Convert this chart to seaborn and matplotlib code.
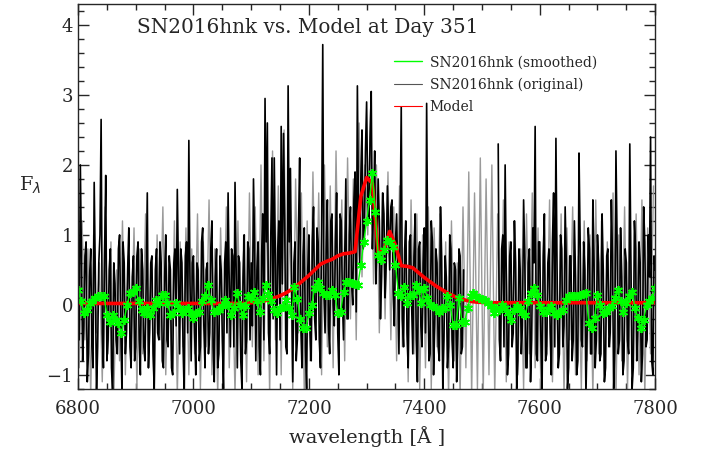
import numpy as np
import pandas as pd
import seaborn as sns
import matplotlib.pyplot as plt
from matplotlib.lines import Line2D
from matplotlib.ticker import MultipleLocator

nan = np.nan

# original spectrum (black), 4 A steps from 6800 to 7800
orig_wave = np.arange(6800, 7801, 4)
orig_flux = [
    0.5, 2.0, -0.8, 0.7, -1.1, 0.4, -0.6, 1.75, -1.3, 0.6, 2.65, -0.9, 1.85, -0.5, 0.8, -1.3, 0.3, -0.7, 1.0, -1.2, 0.6, -0.4, 1.1, -0.9, 0.7,
    -0.6, 0.9, -1.0, 0.5, -0.8, 1.6, -0.4, 0.7, -1.2, 0.8, -0.5, 0.6, -0.9, 1.0, -0.6, 0.5, -1.0, 0.8, 1.65, -0.7, 0.6, -1.3, 0.9, 2.35, -0.8,
    0.7, -1.0, 0.5, -0.6, 1.1, -0.9, 0.6, -0.4, 1.2, -1.1, 0.8, -0.7, 0.5, -1.2, 0.9, 1.6, -0.6, 0.7, 1.75, -0.9, 0.6, -1.2, 1.0, -0.5, 0.8,
    0.6, 1.8, -0.8, 0.9, -1.0, 1.3, 2.95, 2.6, -0.7, 2.1, 2.1, -1.0, 1.2, 2.55, 2.45, -0.6, 3.13, 1.95, -1.1, 0.9, -0.5, 2.1, -0.9, 1.1, -1.2,
    1.0, -0.8, 1.4, -0.5, 0.9, -0.9, 3.72, -0.4, 1.5, -0.7, 1.3, -0.3, 1.6, -1.0, 1.2, -0.5, 1.8, -0.2, 1.4, 0.0, 1.9, 3.13, 0.6, 2.5, 0.9,
    2.9, 1.2, 3.05, 1.4, 0.3, 1.8, -0.2, 1.6, 0.1, 1.7, 0.5, 1.5, -0.3, 1.3, -0.7, 2.83, -0.6, 1.2, -0.9, 1.0, -0.7, 1.3, -1.1, 0.9, -0.6,
    1.1, 2.88, -0.8, 1.2, -1.0, 0.8, -0.6, 1.4, -1.2, 0.7, -0.9, 1.0, -0.5, 0.6, -1.1, 0.8, -0.7, 0.5, nan, nan, nan, nan, nan, nan, nan,
    nan, nan, nan, nan, nan, nan, nan, 2.3, -0.8, 1.0, 2.0, -1.0, 0.7, -0.6, 1.2, -1.2, 0.8, -0.7, 1.5, -0.9, 0.6, -1.1, 1.1, 2.55, -0.8,
    0.9, -1.2, 1.3, -0.7, 0.8, -1.0, 1.6, 2.38, -0.9, 1.0, -0.6, 1.4, -1.2, 0.7, -0.8, 1.2, -1.0, 2.17, -0.5, 0.9, -1.3, 1.1, -0.7, 1.5, -0.9,
    1.0, -0.8, 1.3, -1.1, 0.7, -0.6, 1.5, -1.2, 2.2, -0.7, 1.1, -1.0, 0.8, -0.5, 2.3, -1.2, 1.2, -0.8, 0.9, -1.1, 1.4, -0.6, 1.0, 2.4, -1.0,
    0.5,
]

# original spectrum, the pixels in between (6802 to 7798)
orig_wave_mid = np.arange(6802, 7800, 4)
orig_flux_mid = [
    -0.5, 0.6, -0.3, 0.9, -0.7, 0.8, -0.9, 0.4, -0.6, 1.0, -0.4, 0.7, -0.8, 0.5, -0.9, 0.6, -0.5, 0.8, -0.3, 0.9, -0.7, 0.5, -0.6, 0.4, -0.8,
    0.7, -0.5, 0.8, -0.6, 0.3, -0.9, 0.6, -0.7, 0.5, -0.4, 0.9, -0.8, 0.4, -0.5, 0.7, -0.9, 0.6, -0.3, 0.5, 0.8, -0.6, 0.7, -0.4, 0.3, 0.6,
    -0.4, 0.6, -0.8, 0.9, -0.3, 0.5, -0.7, 0.8, -0.6, 0.4, -0.9, 0.7, -0.5, 0.6, -0.4, 0.3, 0.8, -0.6, 0.5, 0.7, -0.8, 0.4, -0.7, 0.9, -0.5,
    -0.3, 0.8, 0.5, -0.6, 0.7, -0.5, 0.9, -0.4, 1.0, -0.2, 0.6, 0.8, -0.5, 0.3, 1.2, -0.7, 0.9, 0.4, 0.6, -0.8, 1.1, -0.3, 0.7, -0.6, 0.5,
    -0.4, 0.9, -0.2, 1.1, -0.5, 1.0, 0.2, 0.8, -0.3, 1.2, 0.0, 0.9, -0.4, 1.3, 0.1, 0.7, -0.2, 1.0, 0.3, 1.5, -0.1, 1.2, 1.8, 0.8, 2.2,
    1.5, 2.4, 0.8, 2.2, 0.9, 1.2, 0.4, 1.3, 0.6, 1.1, 1.4, 0.2, 0.9, 0.4, 1.1, -0.2, 0.8, -0.4, 0.9, 0.0, 0.7, -0.5, 0.8, -0.3, 0.6,
    -0.4, 0.5, -0.7, 0.9, -0.3, 0.6, -0.8, 0.7, -0.5, 0.4, -0.6, 0.8, -0.9, 0.5, -0.4, 0.7, -0.6, nan, nan, nan, nan, nan, nan, nan, nan,
    nan, nan, nan, nan, nan, nan, nan, -0.5, 0.8, -0.6, 0.4, -0.7, 0.9, -0.4, 0.6, -0.8, 0.5, -0.3, 0.7, -0.9, 0.8, -0.5, 0.6, -0.7, 0.9,
    -0.5, 0.7, -0.8, 0.6, -0.4, 0.9, -0.6, 0.5, -0.7, 0.8, -0.3, 0.6, -0.9, 0.7, -0.5, 0.4, -0.8, 0.9, -0.6, 0.5, -0.4, 0.8, -0.7, 0.6, -0.5,
    0.6, -0.7, 0.5, -0.9, 0.8, -0.4, 0.7, -0.6, 0.9, -0.5, 0.4, -0.8, 0.6, -0.7, 0.5, -0.9, 0.8, -0.3, 0.6, -0.7, 0.9, -0.5, 0.4, -0.8, 0.7,
]

# second (lighter) trace of the spectrum, 5 A steps from 6802
grey_wave = np.arange(6802, 7800, 5)
grey_flux = [
    -0.9, 1.2, -0.5, 0.8, -1.3, 1.0, -0.4, 0.6, -1.1, 1.4, -0.7, 0.9, -1.3, 0.5, -0.8, 1.2, -1.0, 0.7, -0.6, 1.1,
    -1.2, 0.8, -0.7, 1.3, -0.9, 0.6, -1.3, 1.0, -0.5, 1.4, -1.0, 0.7, -0.8, 1.2, -1.3, 0.9, -0.6, 1.1, -1.0, 0.8,
    -0.7, 1.3, -1.2, 0.9, -0.6, 1.5, -1.0, 0.8, -1.3, 1.1, -0.5, 1.4, -0.9, 0.7, -1.3, 1.2, -0.8, 1.0, -1.1, 1.6,
    -0.6, 1.4, -1.0, 2.0, -0.8, 1.5, -1.3, 2.2, -0.5, 1.7, -1.0, 2.5, -0.7, 1.3, -1.2, 1.8, -0.4, 1.6, -1.3, 1.2,
    -0.8, 1.9, -0.5, 1.6, -1.0, 2.0, -0.6, 1.7, -0.9, 2.2, -0.3, 1.5, -0.8, 2.1, -0.2, 1.8, -0.5, 2.6, 0.4, 2.0,
    1.0, 2.8, 0.3, 2.0, -0.4, 1.6, -0.2, 1.9, -0.5, 1.4, -0.8, 1.7, -0.6, 1.2, -1.1, 1.5, -0.7, 1.3, -1.2, 1.0,
    -0.9, 1.4, -1.2, 1.1, -0.6, 1.3, -1.0, 0.9, -1.3, 1.2, -0.8, 0.6, -1.3, 1.4, -0.9, 1.9, -1.3, 1.6, -1.2, 2.1,
    -1.3, 1.8, -1.0, 2.0, -1.3, 1.3, -0.8, 1.5, -1.1, 0.9, -0.6, 1.2, -1.0, 0.8, -1.2, 1.3, -0.7, 1.6, -0.9, 1.1,
    -1.2, 1.0, -0.6, 1.5, -1.1, 0.8, -0.9, 1.3, -1.3, 1.1, -0.5, 1.4, -1.0, 0.7, -1.2, 1.2, -0.8, 1.0, -1.3, 1.5,
    -0.7, 1.2, -1.1, 0.9, -0.6, 1.6, -1.3, 1.0, -0.8, 1.4, -1.2, 0.7, -0.9, 1.3, -1.0, 1.5, -1.3, 1.1, -0.7, 1.7,
]

# smoothed spectrum (green), 5 A steps
smooth_wave = np.arange(6800, 7801, 5)
smooth_flux = [
    0.21, 0.05, -0.12, -0.07, 0.02, 0.05, 0.10, 0.12, 0.13, 0.12, -0.14, -0.24, -0.14, -0.22, -0.26, -0.40, -0.21, 0.0, 0.17, 0.18,
    0.24, 0.05, -0.07, -0.12, -0.05, -0.14, -0.05, 0.07, 0.02, 0.14, 0.14, 0.02, -0.14, -0.12, 0.02, -0.05, -0.12, -0.07, -0.05, -0.12,
    -0.19, -0.12, -0.10, 0.05, 0.12, 0.29, 0.07, -0.10, -0.07, -0.07, -0.02, 0.07, 0.0, -0.14, -0.05, 0.17, 0.0, -0.14, -0.02, 0.12,
    0.10, 0.19, 0.05, -0.10, 0.10, 0.29, 0.15, 0.05, -0.08, -0.12, -0.05, -0.03, 0.07, -0.05, -0.14, 0.26, 0.08, -0.20, -0.33, -0.33,
    -0.12, 0.0, 0.24, 0.33, 0.24, 0.17, 0.14, 0.14, 0.21, 0.14, -0.12, -0.10, 0.19, 0.33, 0.32, 0.31, 0.30, 0.29, 0.57, 0.90,
    1.20, 1.50, 1.89, 1.33, 0.71, 0.64, 0.79, 0.93, 0.90, 0.83, 0.57, 0.17, 0.12, 0.26, 0.02, 0.14, 0.14, 0.29, 0.21, 0.02,
    0.24, 0.10, 0.0, -0.02, -0.05, -0.10, -0.05, -0.05, 0.12, 0.0, -0.29, -0.29, 0.10, -0.24, -0.24, -0.05, 0.12, 0.17, 0.12, 0.10,
    0.08, 0.07, 0.03, -0.02, -0.12, -0.05, -0.07, 0.0, -0.05, -0.12, -0.21, -0.07, -0.02, -0.05, -0.12, -0.14, 0.05, 0.17, 0.24, 0.14,
    -0.02, -0.10, -0.10, -0.06, -0.02, -0.12, -0.14, -0.10, -0.07, 0.07, 0.12, 0.12, 0.12, 0.13, 0.14, 0.15, 0.17, -0.26, -0.33, -0.19,
    0.14, 0.0, -0.12, -0.10, -0.05, -0.02, 0.10, 0.21, 0.05, -0.10, 0.02, 0.12, 0.19, -0.05, -0.19, -0.33, -0.21, 0.0, 0.05, 0.10,
    0.24,
]

# model (red), 10 A steps
model_wave = np.arange(6800, 7801, 10)
model_flux = [
    0.02, 0.02, 0.02, 0.02, 0.02, 0.02, 0.02, 0.02, 0.02, 0.02,
    0.02, 0.02, 0.02, 0.02, 0.02, 0.02, 0.02, 0.02, 0.02, 0.02,
    0.02, 0.02, 0.02, 0.02, 0.02, 0.02, 0.02, 0.02, 0.02, 0.02,
    0.03, 0.04, 0.05, 0.07, 0.10, 0.13, 0.17, 0.22, 0.28, 0.35,
    0.42, 0.50, 0.58, 0.62, 0.65, 0.70, 0.73, 0.74, 0.76, 1.55,
    1.82, 1.74, 0.75, 0.78, 1.05, 0.85, 0.56, 0.55, 0.53, 0.46,
    0.39, 0.33, 0.27, 0.22, 0.17, 0.13, 0.09, 0.07, 0.05, 0.04,
    0.035, 0.03, 0.03, 0.03, 0.03, 0.03, 0.03, 0.03, 0.03, 0.03,
    0.03, 0.03, 0.03, 0.03, 0.03, 0.03, 0.03, 0.03, 0.03, 0.03,
    0.03, 0.03, 0.03, 0.03, 0.03, 0.03, 0.03, 0.03, 0.03, 0.03,
    0.03,
]

sns.set_style("ticks")
plt.rcParams["font.family"] = ["DejaVu Serif"]
plt.rcParams["xtick.direction"] = "in"
plt.rcParams["ytick.direction"] = "in"
plt.rcParams["xtick.top"] = True
plt.rcParams["ytick.right"] = True

fig = plt.figure(figsize=(7.03, 4.5), dpi=100)
ax = fig.add_axes([0.111, 0.136, 0.821, 0.855])

# merge both sets of pixels into one spectrum
orig = pd.concat([
    pd.DataFrame({"wave": orig_wave, "flux": orig_flux}),
    pd.DataFrame({"wave": orig_wave_mid, "flux": orig_flux_mid}),
], ignore_index=True).sort_values("wave").reset_index(drop=True)
orig["part"] = np.where(orig["wave"] < 7500, "blue", "red")

sns.lineplot(x=grey_wave, y=grey_flux, color="#9a9a9a", lw=1.0, ax=ax, estimator=None, sort=False)
sns.lineplot(data=orig, x="wave", y="flux", units="part", color="black", lw=1.2, ax=ax, estimator=None, sort=False)
sns.lineplot(x=model_wave, y=model_flux, color="red", lw=2.6, ax=ax, estimator=None, sort=False)
sns.lineplot(x=smooth_wave, y=smooth_flux, color="#00ff00", lw=1.0, marker=(6, 2, 0), markersize=6.5,
             markeredgecolor="#00ff00", markeredgewidth=1.3, ax=ax, estimator=None, sort=False)

ax.set_xlim(6800, 7800)
ax.set_ylim(-1.2, 4.3)
ax.xaxis.set_major_locator(MultipleLocator(200))
ax.xaxis.set_minor_locator(MultipleLocator(50))
ax.yaxis.set_major_locator(MultipleLocator(1))
ax.yaxis.set_minor_locator(MultipleLocator(0.2))
ax.tick_params(which="major", length=8, width=1, labelsize=13)
ax.tick_params(which="minor", length=4, width=1)
ax.tick_params(axis="x", pad=8)
for s in ax.spines.values():
    s.set_linewidth(1)

ax.set_xlabel("wavelength [Å ]", fontsize=14, labelpad=6)
ax.set_ylabel(r"F$_\lambda$", fontsize=14, rotation=0, labelpad=12)
ax.text(0.102, 0.94, "SN2016hnk vs. Model at Day 351", transform=ax.transAxes,
        fontsize=14.4, va="center", ha="left")

handles = [
    Line2D([], [], color="#00ff00", lw=1.0),
    Line2D([], [], color="#555555", lw=0.8),
    Line2D([], [], color="red", lw=0.8),
]
labels = ["SN2016hnk (smoothed)", "SN2016hnk (original)", "Model"]
ax.legend(handles, labels, loc="upper left", bbox_to_anchor=(0.536, 0.885), frameon=False,
          fontsize=10, handlelength=2.0, handletextpad=0.55, labelspacing=0.6, borderpad=0)

fig.savefig("out.png", dpi=100)
